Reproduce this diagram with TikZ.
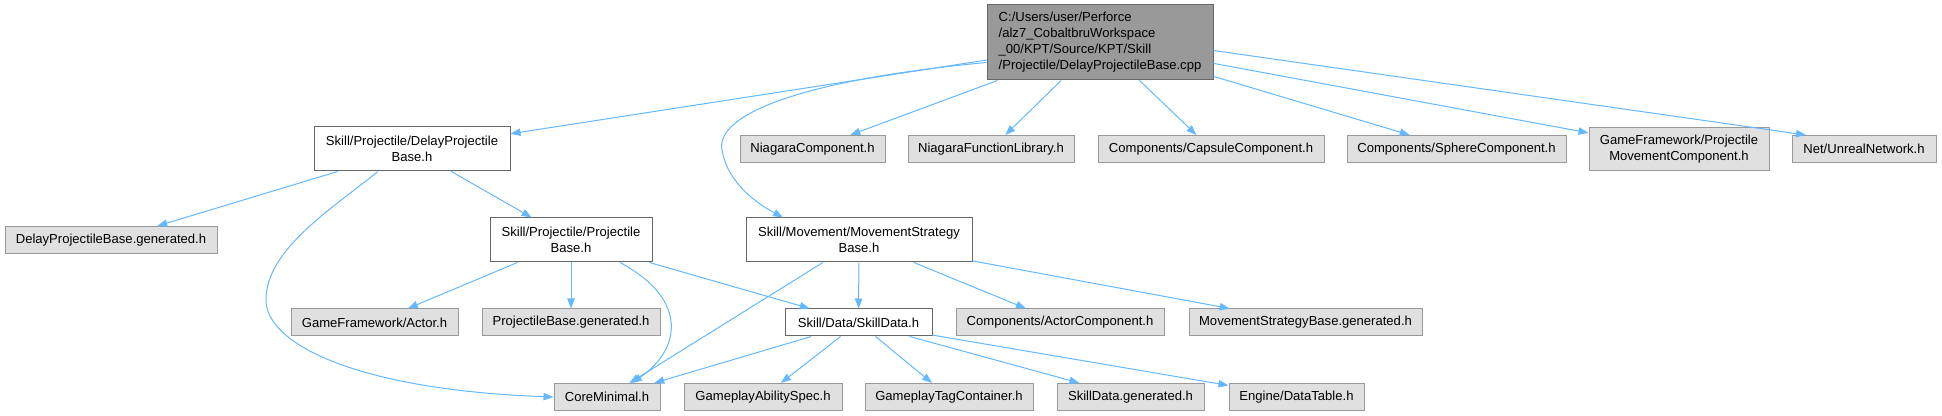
\documentclass[tikz,border=0pt]{standalone}
\usepackage{fontspec}
\setmainfont{Liberation Sans}
\usetikzlibrary{positioning,calc,arrows.meta}

\definecolor{edgeblue}{HTML}{63B8FF}
\definecolor{rootfill}{HTML}{999999}
\definecolor{darkline}{HTML}{666666}
\definecolor{extfill}{HTML}{E0E0E0}
\definecolor{extline}{HTML}{999999}

\begin{document}
\begin{tikzpicture}[x=0.75pt, y=-0.75pt,
        box/.style={rectangle, inner sep=0pt, minimum height=20.25pt, align=center, line width=0.75pt, font=\fontsize{9.8}{12}\selectfont},
        main/.style={box, draw=darkline, fill=rootfill, align=left, minimum height=56.25pt},
        header/.style={box, draw=darkline, fill=white, minimum height=33pt},
        extern/.style={box, draw=extline, fill=extfill},
        arrow/.style={-{Stealth[inset=0pt, length=7.5pt, width=5.5pt]}, draw=edgeblue, line width=0.75pt}
    ]
        \useasboundingbox (0,0) rectangle (1942,416);

        % Source file
        \node[main, minimum width=169.5pt] (root) at (1100, 42.5) {C:/Users/user/Perforce\\/alz7\_CobaltbruWorkspace\\\_00/KPT/Source/KPT/Skill\\/Projectile/DelayProjectileBase.cpp};

        % Direct includes
        \node[header, minimum width=147pt] (dpb) at (412, 149) {Skill/Projectile/DelayProjectile\\Base.h};
        \node[extern, minimum width=108.75pt] (niagc) at (812.5, 149) {NiagaraComponent.h};
        \node[extern, minimum width=124.5pt] (niagfl) at (991, 149) {NiagaraFunctionLibrary.h};
        \node[extern, minimum width=169.5pt] (capsule) at (1211, 149) {Components/CapsuleComponent.h};
        \node[extern, minimum width=164.25pt] (sphere) at (1456.5, 149) {Components/SphereComponent.h};
        \node[extern, minimum width=135pt, minimum height=32.25pt] (pmc) at (1679, 149.5) {GameFramework/Projectile\\MovementComponent.h};
        \node[extern, minimum width=108pt] (net) at (1864, 149) {Net/UnrealNetwork.h};

        % Second level
        \node[extern, minimum width=159pt] (dpbgen) at (111, 240) {DelayProjectileBase.generated.h};
        \node[header, minimum width=121.5pt] (pb) at (571, 240) {Skill/Projectile/Projectile\\Base.h};
        \node[header, minimum width=169.5pt] (msb) at (859, 240) {Skill/Movement/MovementStrategy\\Base.h};

        % Third level
        \node[extern, minimum width=125.25pt] (actor) at (374.5, 322.5) {GameFramework/Actor.h};
        \node[extern, minimum width=133.5pt] (pbgen) at (571, 322.5) {ProjectileBase.generated.h};
        \node[header, minimum width=110.25pt, minimum height=20.25pt] (skilldata) at (858.5, 322.5) {Skill/Data/SkillData.h};
        \node[extern, minimum width=156pt] (actorcomp) at (1060, 322.5) {Components/ActorComponent.h};
        \node[extern, minimum width=174.75pt] (msbgen) at (1305.5, 322.5) {MovementStrategyBase.generated.h};

        % Bottom level
        \node[extern, minimum width=79.5pt] (core) at (607, 397) {CoreMinimal.h};
        \node[extern, minimum width=118.5pt] (gas) at (763, 397) {GameplayAbilitySpec.h};
        \node[extern, minimum width=126pt] (gtc) at (949, 397) {GameplayTagContainer.h};
        \node[extern, minimum width=110.25pt] (sdgen) at (1130.5, 397) {SkillData.generated.h};
        \node[extern, minimum width=101.25pt] (dt) at (1296.5, 397) {Engine/DataTable.h};

        \draw[arrow] (root) -- (dpb);
        \draw[arrow] (root) -- (niagc);
        \draw[arrow] (root) -- (niagfl);
        \draw[arrow] (root) -- (capsule);
        \draw[arrow] (root) -- (sphere);
        \draw[arrow] (root) -- (pmc);
        \draw[arrow] ($(root.east)+(0,8)$) -- ($(net.north)+(-58,0)$);
        \draw[arrow] ($(root.west)+(0,20)$) .. controls (800,80) and (715,115) .. (722,150) .. controls (728,185) and (760,205) .. ($(msb.north)+(-76,0)$);

        \draw[arrow] (dpb) -- (dpbgen);
        \draw[arrow] (dpb) -- (pb);
        \draw[arrow] ($(dpb.south)+(-34,0)$) .. controls (330,210) and (266,250) .. (266,300) .. controls (266,345) and (360,390) .. (core.west);

        \draw[arrow] (pb) -- (actor);
        \draw[arrow] (pb) -- (pbgen);
        \draw[arrow] ($(pb.south)+(49,0)$) .. controls (690,300) and (680,350) .. ($(core.north)+(25,0)$);
        \draw[arrow] (pb) -- (skilldata);

        \draw[arrow] (msb) -- (core);
        \draw[arrow] (msb) -- (skilldata);
        \draw[arrow] (msb) -- (actorcomp);
        \draw[arrow] (msb) -- (msbgen);

        \draw[arrow] (skilldata) -- (core);
        \draw[arrow] (skilldata) -- (gas);
        \draw[arrow] (skilldata) -- (gtc);
        \draw[arrow] (skilldata) -- (sdgen);
        \draw[arrow] (skilldata) -- (dt);
    \end{tikzpicture}
\end{document}
